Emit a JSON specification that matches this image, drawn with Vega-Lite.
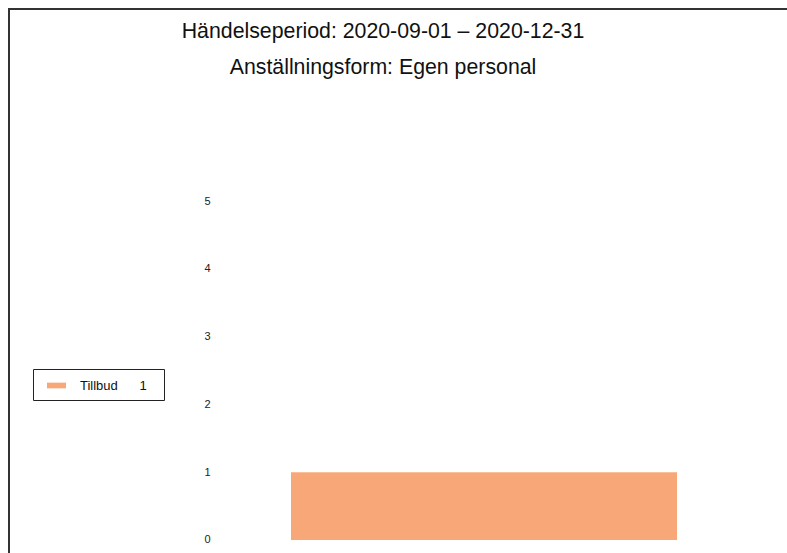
{
  "$schema": "https://vega.github.io/schema/vega-lite/v6.json",
  "autosize": {"type": "none"},
  "padding": {"left": 9, "top": 9, "right": 0, "bottom": 0},
  "width": 800,
  "height": 600,
  "background": "white",
  "title": {
    "text": ["Händelseperiod: 2020-09-01 – 2020-12-31", "Anställningsform: Egen personal"],
    "anchor": "middle",
    "dx": -26,
    "offset": -86,
    "baseline": "alphabetic",
    "lineHeight": 36,
    "font": "Liberation Sans",
    "fontSize": 21.3,
    "fontWeight": "normal",
    "color": "#111"
  },
  "data": {
    "values": [
      {"kategori": "Tillbud", "etikett": "Tillbud\u00a0\u00a0\u00a0\u00a0\u00a0\u00a01", "antal": 1}
    ]
  },
  "mark": {"type": "bar"},
  "encoding": {
    "x": {
      "field": "kategori",
      "type": "nominal",
      "axis": null,
      "scale": {"range": [282, 668], "paddingInner": 0, "paddingOuter": 0}
    },
    "y": {
      "field": "antal",
      "type": "quantitative",
      "scale": {"domain": [-1.018, 7.832], "nice": false, "zero": false},
      "axis": {
        "title": null,
        "values": [0, 1, 2, 3, 4, 5],
        "grid": false,
        "domain": false,
        "ticks": false,
        "offset": -203,
        "labelPadding": 2,
        "labelFont": "Liberation Sans",
        "labelFontSize": 11,
        "labelColor": "#222"
      }
    },
    "color": {
      "field": "etikett",
      "type": "nominal",
      "scale": {"range": ["#F8A878"]},
      "legend": {
        "title": "\u00a0",
        "titleOrient": "right",
        "titlePadding": 10,
        "titleFontSize": 13,
        "orient": "none",
        "legendX": 24,
        "legendY": 360,
        "padding": 7,
        "strokeColor": "#222",
        "fillColor": "white",
        "symbolType": "M-1,-0.3L1,-0.3L1,0.3L-1,0.3Z",
        "symbolSize": 361,
        "symbolStrokeWidth": 0,
        "symbolOffset": 7,
        "labelOffset": 14,
        "labelFont": "Liberation Sans",
        "labelFontSize": 13,
        "labelLimit": 300,
        "labelColor": "#111"
      }
    }
  },
  "config": {
    "view": {"stroke": "#333", "strokeWidth": 2}
  }
}
